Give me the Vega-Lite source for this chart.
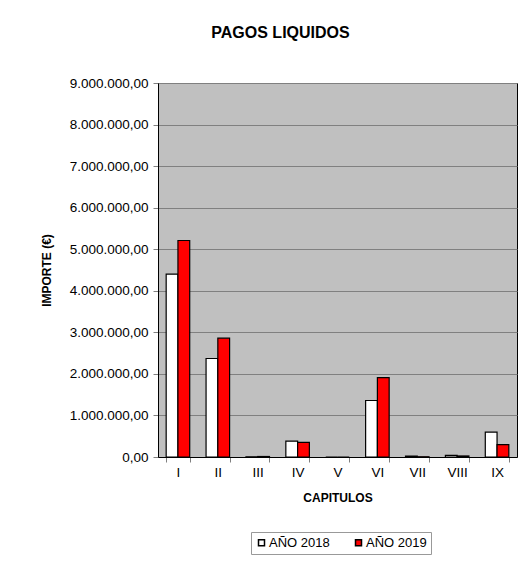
{
  "$schema": "https://vega.github.io/schema/vega-lite/v6.json",
  "autosize": "none",
  "width": 359,
  "height": 374,
  "padding": {"left": 158, "top": 83, "right": 11, "bottom": 107},
  "background": "white",
  "title": {
    "text": "PAGOS LIQUIDOS",
    "font": "Liberation Sans",
    "fontSize": 16,
    "fontWeight": "bold",
    "color": "black",
    "anchor": "middle",
    "frame": "group",
    "offset": 35,
    "dx": -57
  },
  "data": {
    "values": [
      {"capitulo": "I", "anio": "AÑO 2018", "importe": 4400000},
      {"capitulo": "I", "anio": "AÑO 2019", "importe": 5210000},
      {"capitulo": "II", "anio": "AÑO 2018", "importe": 2370000},
      {"capitulo": "II", "anio": "AÑO 2019", "importe": 2860000},
      {"capitulo": "III", "anio": "AÑO 2018", "importe": 5000},
      {"capitulo": "III", "anio": "AÑO 2019", "importe": 12000},
      {"capitulo": "IV", "anio": "AÑO 2018", "importe": 380000},
      {"capitulo": "IV", "anio": "AÑO 2019", "importe": 350000},
      {"capitulo": "V", "anio": "AÑO 2018", "importe": 0},
      {"capitulo": "V", "anio": "AÑO 2019", "importe": 0},
      {"capitulo": "VI", "anio": "AÑO 2018", "importe": 1360000},
      {"capitulo": "VI", "anio": "AÑO 2019", "importe": 1910000},
      {"capitulo": "VII", "anio": "AÑO 2018", "importe": 20000},
      {"capitulo": "VII", "anio": "AÑO 2019", "importe": 6000},
      {"capitulo": "VIII", "anio": "AÑO 2018", "importe": 40000},
      {"capitulo": "VIII", "anio": "AÑO 2019", "importe": 25000},
      {"capitulo": "IX", "anio": "AÑO 2018", "importe": 600000},
      {"capitulo": "IX", "anio": "AÑO 2019", "importe": 300000}
    ]
  },
  "mark": {"type": "bar", "stroke": "black", "strokeWidth": 1.2},
  "encoding": {
    "x": {
      "field": "capitulo",
      "type": "nominal",
      "sort": ["I", "II", "III", "IV", "V", "VI", "VII", "VIII", "IX"],
      "scale": {"paddingInner": 0.41, "paddingOuter": 0.205},
      "axis": {
        "title": "CAPITULOS",
        "labelAngle": 0,
        "tickBand": "extent",
        "tickSize": 5,
        "tickColor": "#808080",
        "domainColor": "black",
        "labelPadding": 3,
        "titlePadding": 14
      }
    },
    "xOffset": {"field": "anio", "type": "nominal"},
    "y": {
      "field": "importe",
      "type": "quantitative",
      "scale": {"domain": [0, 9000000], "nice": false},
      "axis": {
        "title": "IMPORTE (€)",
        "values": [0, 1000000, 2000000, 3000000, 4000000, 5000000, 6000000, 7000000, 8000000, 9000000],
        "format": ",.2f",
        "gridColor": "#808080",
        "gridWidth": 1,
        "tickSize": 5,
        "tickColor": "#808080",
        "domainColor": "black",
        "labelPadding": 5,
        "titlePadding": 16
      }
    },
    "color": {
      "field": "anio",
      "type": "nominal",
      "scale": {"domain": ["AÑO 2018", "AÑO 2019"], "range": ["#FFFFFF", "#FF0000"]},
      "legend": {
        "title": null,
        "orient": "none",
        "legendX": 93,
        "legendY": 449,
        "direction": "horizontal",
        "symbolType": "square",
        "symbolStrokeColor": "black",
        "symbolStrokeWidth": 1.5,
        "symbolSize": 36,
        "symbolOpacity": 1,
        "labelFont": "Liberation Sans",
        "labelFontSize": 13,
        "labelColor": "black",
        "labelOffset": 1,
        "columnPadding": 22,
        "strokeColor": "#999999",
        "fillColor": "white",
        "padding": 4
      }
    }
  },
  "config": {
    "locale": {
      "number": {"decimal": ",", "thousands": ".", "grouping": [3], "currency": ["", " €"]}
    },
    "view": {"fill": "#C0C0C0", "stroke": "black", "strokeWidth": 1},
    "axis": {
      "labelFont": "Liberation Sans",
      "labelFontSize": 13.5,
      "labelColor": "black",
      "titleFont": "Liberation Sans",
      "titleFontSize": 12,
      "titleFontWeight": "bold",
      "titleColor": "black"
    }
  }
}
